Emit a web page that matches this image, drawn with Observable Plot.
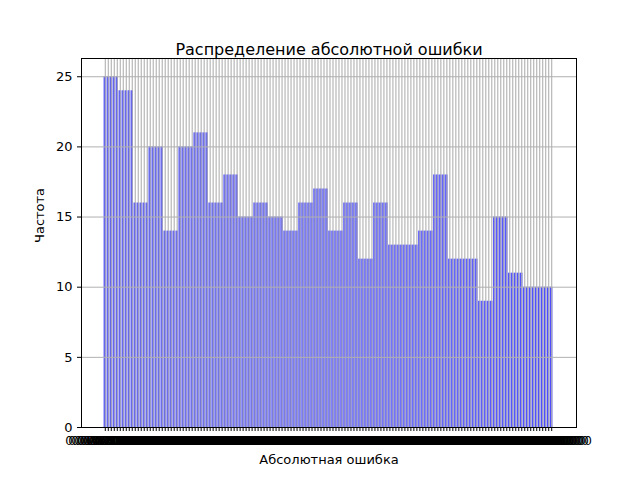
<!DOCTYPE html>
<html><head><meta charset="utf-8">
<script src="https://cdn.jsdelivr.net/npm/d3@7"></script>
<script src="https://cdn.jsdelivr.net/npm/@observablehq/plot@0.6"></script>
<style>body{margin:0;background:#fff}</style>
</head><body>
<script>
// data: frequency per group, each group spans 5 error values
const groupCounts = [25, 24, 16, 20, 14, 20, 21, 16, 18, 15, 16, 15, 14, 16, 17,
                     14, 16, 12, 16, 13, 13, 14, 18, 12, 12, 9, 15, 11, 10, 10];
const perGroup = 5;
const yTicks = [0, 5, 10, 15, 20, 25];

const data = [];
groupCounts.forEach((c, g) => {
  for (let k = 0; k < perGroup; k++) {
    const i = g * perGroup + k;
    data.push({key: String(i), label: (0.0102 * (i + 1)).toFixed(9), count: c});
  }
});
const keys = data.map(d => d.key);
const labelOf = Object.fromEntries(data.map(d => [d.key, d.label]));

const fig = Plot.plot({
  width: 640, height: 480,
  marginLeft: 81, marginRight: 64, marginTop: 58, marginBottom: 53,
  style: {fontFamily: "DejaVu Sans", fontSize: "12px", background: "#fff"},
  x: {domain: keys, padding: 0.2, insetLeft: 22, insetRight: 23, label: null},
  y: {domain: [0, 26.3], ticks: yTicks, label: null},
  marks: [
    Plot.barY(data, {x: "key", y: "count", fill: "#4d4dff"}),
    Plot.ruleX(keys, {x: d => d, stroke: "#b0b0b0", strokeWidth: 1.1}),
    Plot.gridY(yTicks, {stroke: "#b0b0b0", strokeOpacity: 1, strokeWidth: 1}),
    Plot.frame({stroke: "#000"}),
    Plot.axisY({ticks: yTicks, tickSize: 4, label: null, fontSize: 13}),
    Plot.axisX({tickFormat: k => labelOf[k], tickSize: 4, label: null, fontSize: 12, fill: "#000"}),
    Plot.text(["Распределение абсолютной ошибки"], {frameAnchor: "top", dy: -15, fontSize: 16, fill: "#000"}),
    Plot.text(["Абсолютная ошибка"], {frameAnchor: "bottom", dy: 36, fontSize: 13, fill: "#000"}),
    Plot.text(["Частота"], {frameAnchor: "left", dx: -42, rotate: -90, fontSize: 13, fill: "#000"})
  ]
});
document.body.append(fig);
</script>
</body></html>
